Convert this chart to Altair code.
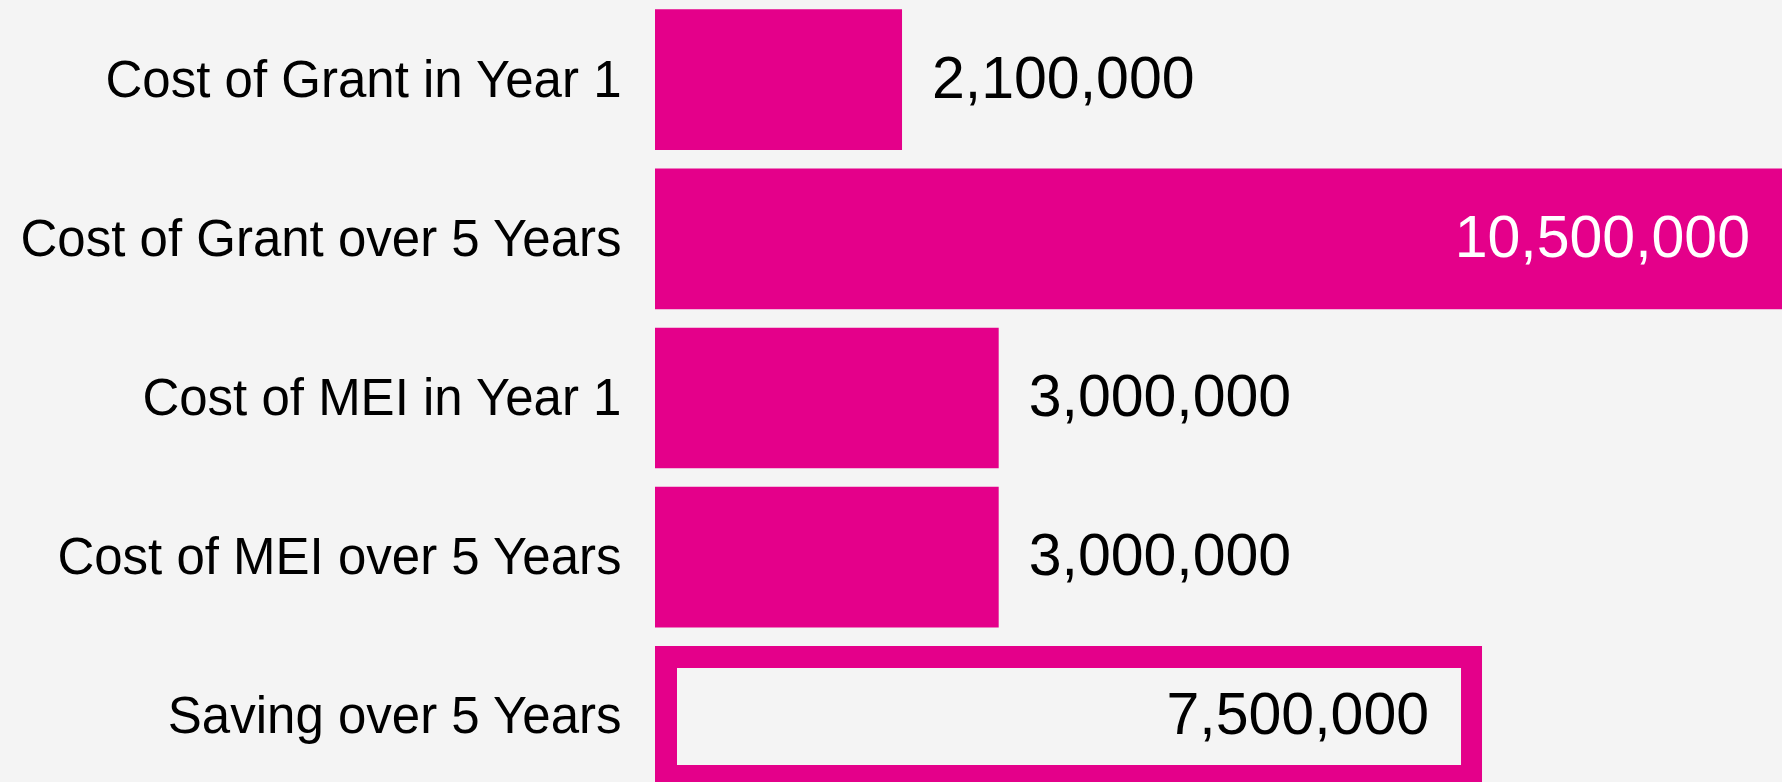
import altair as alt
import pandas as pd

# ---- data ----
categories = [
    "Cost of Grant in Year 1",
    "Cost of Grant over 5 Years",
    "Cost of MEI in Year 1",
    "Cost of MEI over 5 Years",
    "Saving over 5 Years",
]
values = [2100000, 10500000, 3000000, 3000000, 7500000]

SAVING = "Saving over 5 Years"
MAGENTA = "#E4008A"
BG = "#F4F4F4"
FONT = "Liberation Sans"
X_MIN = -200000
X_MAX = 10293000

df = pd.DataFrame({"category": categories, "value": values})

y = alt.Y(
    "category:N",
    sort=categories,
    title=None,
    scale=alt.Scale(paddingInner=0.116, paddingOuter=0.058, range=[0, 796]),
    axis=alt.Axis(
        labelFontSize=51,
        labelFont=FONT,
        labelColor="#000000",
        labelPadding=34,
        labelOffset=2,
        labelLimit=900,
        ticks=False,
        domain=False,
        grid=False,
    ),
)
xscale = alt.Scale(domain=[X_MIN, X_MAX], clamp=True, nice=False, zero=False)
x = alt.X("value:Q", scale=xscale, axis=None)
x2 = alt.X2(datum=X_MIN)

base = alt.Chart(df)

bars = base.mark_bar(color=MAGENTA).encode(x=x, x2=x2, y=y)

inner = (
    base.transform_filter(alt.datum.category == SAVING)
    .mark_bar(color=BG, size=97, xOffset=-21, x2Offset=22)
    .encode(x=x, x2=x2, y=y)
)

txt = dict(font=FONT, fontSize=59, baseline="middle")

t_out = (
    base.transform_filter("datum.value < 5000000")
    .mark_text(align="left", dx=30, color="#000000", **txt)
    .encode(x=x, y=y, text=alt.Text("value:Q", format=","))
)

t_big = (
    base.transform_filter("datum.value >= 10000000")
    .mark_text(align="right", dx=-32, color="#FFFFFF", **txt)
    .encode(x=x, y=y, text=alt.Text("value:Q", format=","))
)

t_saving = (
    base.transform_filter(alt.datum.category == SAVING)
    .mark_text(align="right", dx=-53, color="#000000", **txt)
    .encode(x=x, y=y, text=alt.Text("value:Q", format=","))
)

chart = (
    alt.layer(bars, inner, t_out, t_big, t_saving)
    .properties(
        width=1127,
        height=782,
        padding={"left": 655, "top": 0, "right": 0, "bottom": 0},
        autosize=alt.AutoSizeParams(type="none"),
    )
    .configure(background=BG)
    .configure_view(stroke=None)
)

chart.save("out.html", embed_options={"renderer": "svg", "actions": False})
